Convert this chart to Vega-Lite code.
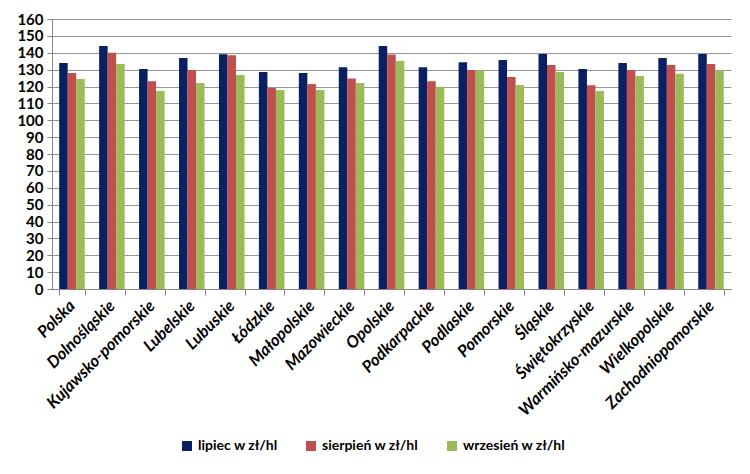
{
  "$schema": "https://vega.github.io/schema/vega-lite/v6.json",
  "width": 679,
  "height": 270,
  "autosize": {"type": "none"},
  "padding": {"left": 52, "top": 19, "right": 19, "bottom": 185},
  "background": "white",
  "data": {"values": [
    {"r": "Polska", "s": "lipiec w zł/hl", "v": 133.9},
    {"r": "Polska", "s": "sierpień w zł/hl", "v": 128.0},
    {"r": "Polska", "s": "wrzesień w zł/hl", "v": 124.4},
    {"r": "Dolnośląskie", "s": "lipiec w zł/hl", "v": 144.0},
    {"r": "Dolnośląskie", "s": "sierpień w zł/hl", "v": 140.0},
    {"r": "Dolnośląskie", "s": "wrzesień w zł/hl", "v": 133.3},
    {"r": "Kujawsko-pomorskie", "s": "lipiec w zł/hl", "v": 130.4},
    {"r": "Kujawsko-pomorskie", "s": "sierpień w zł/hl", "v": 123.1},
    {"r": "Kujawsko-pomorskie", "s": "wrzesień w zł/hl", "v": 117.3},
    {"r": "Lubelskie", "s": "lipiec w zł/hl", "v": 136.9},
    {"r": "Lubelskie", "s": "sierpień w zł/hl", "v": 129.8},
    {"r": "Lubelskie", "s": "wrzesień w zł/hl", "v": 122.1},
    {"r": "Lubuskie", "s": "lipiec w zł/hl", "v": 139.1},
    {"r": "Lubuskie", "s": "sierpień w zł/hl", "v": 138.5},
    {"r": "Lubuskie", "s": "wrzesień w zł/hl", "v": 126.8},
    {"r": "Łódzkie", "s": "lipiec w zł/hl", "v": 128.6},
    {"r": "Łódzkie", "s": "sierpień w zł/hl", "v": 119.1},
    {"r": "Łódzkie", "s": "wrzesień w zł/hl", "v": 117.9},
    {"r": "Małopolskie", "s": "lipiec w zł/hl", "v": 128.0},
    {"r": "Małopolskie", "s": "sierpień w zł/hl", "v": 121.5},
    {"r": "Małopolskie", "s": "wrzesień w zł/hl", "v": 117.9},
    {"r": "Mazowieckie", "s": "lipiec w zł/hl", "v": 131.4},
    {"r": "Mazowieckie", "s": "sierpień w zł/hl", "v": 124.8},
    {"r": "Mazowieckie", "s": "wrzesień w zł/hl", "v": 122.1},
    {"r": "Opolskie", "s": "lipiec w zł/hl", "v": 144.0},
    {"r": "Opolskie", "s": "sierpień w zł/hl", "v": 138.9},
    {"r": "Opolskie", "s": "wrzesień w zł/hl", "v": 135.1},
    {"r": "Podkarpackie", "s": "lipiec w zł/hl", "v": 131.4},
    {"r": "Podkarpackie", "s": "sierpień w zł/hl", "v": 123.1},
    {"r": "Podkarpackie", "s": "wrzesień w zł/hl", "v": 119.9},
    {"r": "Podlaskie", "s": "lipiec w zł/hl", "v": 134.3},
    {"r": "Podlaskie", "s": "sierpień w zł/hl", "v": 129.8},
    {"r": "Podlaskie", "s": "wrzesień w zł/hl", "v": 129.6},
    {"r": "Pomorskie", "s": "lipiec w zł/hl", "v": 135.7},
    {"r": "Pomorskie", "s": "sierpień w zł/hl", "v": 125.6},
    {"r": "Pomorskie", "s": "wrzesień w zł/hl", "v": 120.9},
    {"r": "Śląskie", "s": "lipiec w zł/hl", "v": 139.3},
    {"r": "Śląskie", "s": "sierpień w zł/hl", "v": 132.7},
    {"r": "Śląskie", "s": "wrzesień w zł/hl", "v": 128.6},
    {"r": "Świętokrzyskie", "s": "lipiec w zł/hl", "v": 130.4},
    {"r": "Świętokrzyskie", "s": "sierpień w zł/hl", "v": 120.7},
    {"r": "Świętokrzyskie", "s": "wrzesień w zł/hl", "v": 117.3},
    {"r": "Warmińsko-mazurskie", "s": "lipiec w zł/hl", "v": 133.9},
    {"r": "Warmińsko-mazurskie", "s": "sierpień w zł/hl", "v": 129.8},
    {"r": "Warmińsko-mazurskie", "s": "wrzesień w zł/hl", "v": 126.2},
    {"r": "Wielkopolskie", "s": "lipiec w zł/hl", "v": 136.9},
    {"r": "Wielkopolskie", "s": "sierpień w zł/hl", "v": 132.7},
    {"r": "Wielkopolskie", "s": "wrzesień w zł/hl", "v": 127.6},
    {"r": "Zachodniopomorskie", "s": "lipiec w zł/hl", "v": 139.3},
    {"r": "Zachodniopomorskie", "s": "sierpień w zł/hl", "v": 133.3},
    {"r": "Zachodniopomorskie", "s": "wrzesień w zł/hl", "v": 129.6}
  ]},
  "mark": {"type": "bar"},
  "encoding": {
    "x": {
      "field": "r", "type": "nominal", "sort": null, "title": null,
      "scale": {"paddingInner": 0.36, "paddingOuter": 0.18},
      "axis": {
        "labelAngle": -45, "labelAlign": "right", "labelBaseline": "middle",
        "labelFont": "Lato", "labelFontSize": 16.5, "labelFontWeight": "bold", "labelFontStyle": "italic",
        "labelColor": "black", "labelPadding": 8,
        "tickBand": "extent", "tickSize": 6, "tickColor": "#868686",
        "domainColor": "#868686", "grid": false
      }
    },
    "xOffset": {"field": "s", "type": "nominal", "scale": {"paddingInner": 0, "paddingOuter": 0}},
    "y": {
      "field": "v", "type": "quantitative", "title": null,
      "scale": {"domain": [0, 160], "nice": false},
      "axis": {
        "values": [0,10,20,30,40,50,60,70,80,90,100,110,120,130,140,150,160],
        "labelFont": "Lato", "labelFontSize": 15, "labelFontWeight": "bold", "labelColor": "black",
        "labelPadding": 4, "tickSize": 5, "tickColor": "#868686", "domainColor": "#868686",
        "gridColor": "#969696", "gridWidth": 1.2
      }
    },
    "color": {
      "field": "s", "type": "nominal", "title": null,
      "scale": {"domain": ["lipiec w zł/hl", "sierpień w zł/hl", "wrzesień w zł/hl"], "range": ["#0B1F63", "#C0504D", "#9BBB59"]},
      "legend": {
        "orient": "none", "legendX": 128, "legendY": 420, "direction": "horizontal",
        "symbolType": "square", "symbolSize": 100, "symbolStrokeWidth": 0,
        "labelFont": "Lato", "labelFontSize": 14, "labelFontWeight": "bold", "labelColor": "black",
        "columnPadding": 26, "labelOffset": 4
      }
    }
  },
  "config": {"view": {"stroke": null}}
}
